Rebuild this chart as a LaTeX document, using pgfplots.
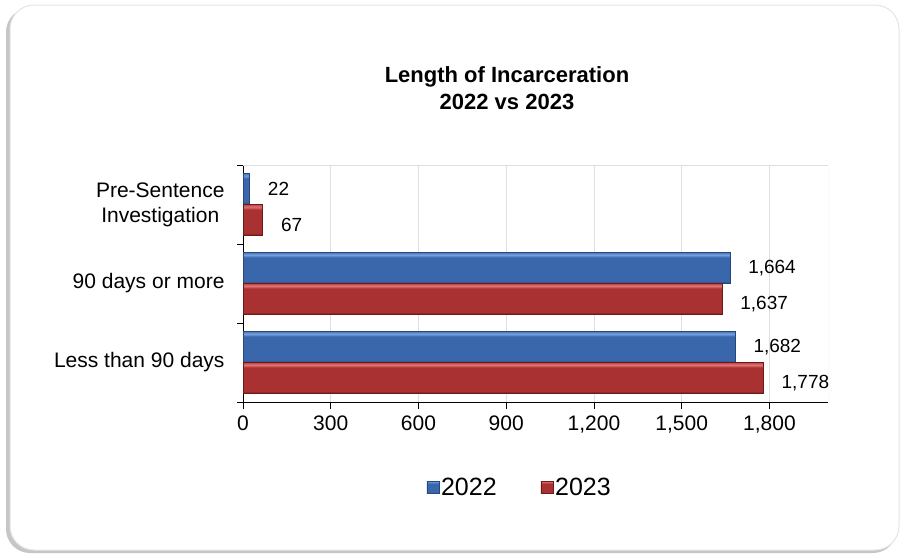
\documentclass[border=0pt]{standalone}
\usepackage{pgfplots}
\pgfplotsset{compat=1.18}
\usepackage{fontspec}
\setmainfont{Liberation Sans}

\definecolor{bluemain}{HTML}{3A67AB}
\definecolor{bluelight}{HTML}{74A0DE}
\definecolor{bluedark}{HTML}{26467C}
\definecolor{redmain}{HTML}{A93131}
\definecolor{redlight}{HTML}{E47474}
\definecolor{reddark}{HTML}{6E1A1A}

% bevel-like vertical shadings (path maps to 25bp..75bp)
\pgfdeclareverticalshading{blueshade}{100bp}{color(0bp)=(bluedark); color(25bp)=(bluedark);
  color(29bp)=(bluemain); color(67bp)=(bluemain); color(71bp)=(bluelight); color(75bp)=(bluemain!70!bluelight); color(100bp)=(bluemain)}
\pgfdeclareverticalshading{redshade}{100bp}{color(0bp)=(reddark); color(25bp)=(reddark);
  color(29bp)=(redmain); color(67bp)=(redmain); color(71bp)=(redlight); color(75bp)=(redmain!70!redlight); color(100bp)=(redmain)}

\pgfplotsset{
  b22/.style={bar shift=15.5pt, draw=bluedark, shading=blueshade},
  b23/.style={bar shift=-15.5pt, draw=reddark, shading=redshade,
    every node near coord/.append style={yshift=-5pt}},
}

\begin{document}
\begin{tikzpicture}
% frame (1px = 1pt)
\useasboundingbox (0pt,0pt) rectangle (905pt,-557pt);
\fill[gray!45, rounded corners=24pt] (6pt,-8pt) rectangle (897pt,-553pt);
\fill[white, rounded corners=24pt] (10pt,-5pt) rectangle (899pt,-550pt);
\draw[gray!20, line width=1pt, rounded corners=24pt] (10pt,-5pt) rectangle (899pt,-550pt);

\node[font=\bfseries\fontsize{22}{27}\selectfont, align=center] at (507pt,-88pt)
  {Length of Incarceration\\2022 vs 2023};

\begin{axis}[
  at={(243pt,-402pt)}, anchor=south west,
  scale only axis, width=585pt, height=237pt,
  xbar, bar width=31pt,
  xmin=0, xmax=2000, ymin=0.5, ymax=3.5,
  axis lines*=left,
  axis line style={black, -, line width=0.8pt},
  xtick={0,300,...,1800},
  ytick={1,2,3},
  yticklabels={Less than 90 days, 90 days or more, {Pre-Sentence\\Investigation}},
  minor ytick={0.5,1.5,2.5,3.5},
  major tick length=0pt,
  minor tick length=6pt,
  xtick style={black, line width=0.8pt},
  x tick style={/pgfplots/major tick length=7pt},
  minor tick style={black, line width=0.8pt},
  tick align=outside,
  xmajorgrids, grid style={gray!25, line width=0.8pt},
  ticklabel style={font=\fontsize{21}{25}\selectfont},
  yticklabel style={align=center, xshift=-15pt},
  xticklabel style={yshift=-10pt},
  /pgf/number format/1000 sep={,},
  /pgf/number format/assume math mode=true,
  point meta=x,
  nodes near coords,
  every node near coord/.append style={font=\fontsize{19}{22}\selectfont, anchor=west, xshift=15pt, black},
  legend style={draw=none, at={(0.473,-0.36)}, anchor=center, legend columns=-1,
    font=\fontsize{25}{28}\selectfont,
    /tikz/every even column/.append style={column sep=42pt}},
  legend image code/.code={\fill[#1] (0pt,-6pt) rectangle (12pt,6pt);},
]
\draw[gray!25, line width=0.8pt] (rel axis cs:0,1) -- (rel axis cs:1,1) -- (rel axis cs:1,0);

% one plot per bar so each bar gets its own shading
\addplot[b22] coordinates {(1682,1)};
\addplot[b23] coordinates {(1778,1)};
\addplot[b22, forget plot] coordinates {(1664,2)};
\addplot[b22, forget plot] coordinates {(22,3)};
\addplot[b23, forget plot] coordinates {(1637,2)};
\addplot[b23, forget plot] coordinates {(67,3)};
\legend{2022,2023}
\end{axis}
\end{tikzpicture}
\end{document}
